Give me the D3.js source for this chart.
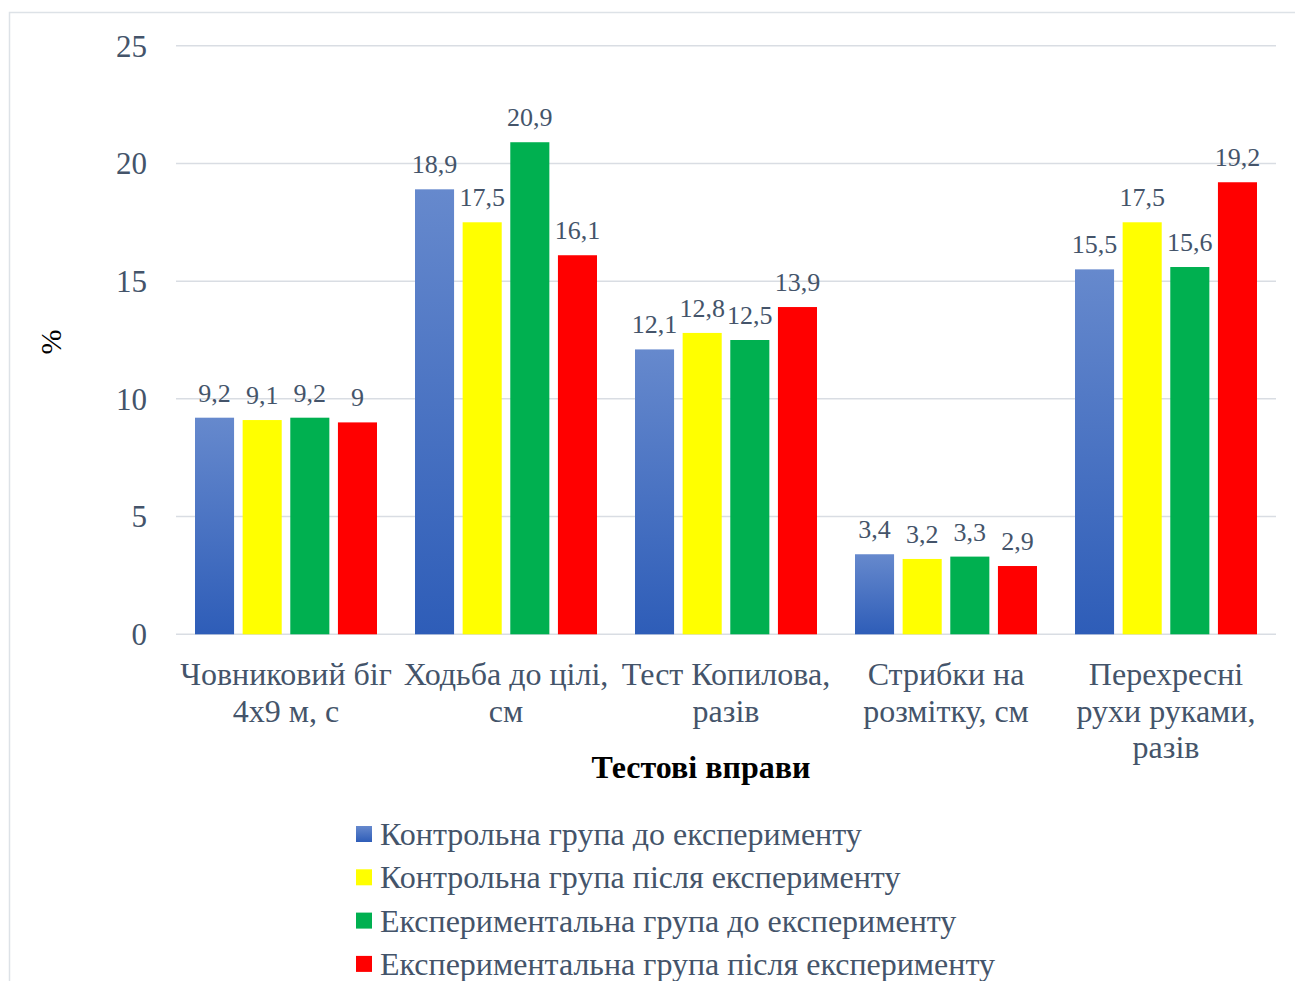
<!DOCTYPE html>
<html>
<head>
<meta charset="utf-8">
<script src="https://cdn.jsdelivr.net/npm/d3@7"></script>
<style>
  html, body { margin: 0; padding: 0; background: #fff; }
  svg { display: block; }
  text { font-family: "Liberation Serif", "Times New Roman", serif; }
</style>
</head>
<body>
<svg id="chart" width="1295" height="981"></svg>
<script>
// Test exercises (line breaks mark how each label wraps)
const categories = [
  "Човниковий біг\n4x9 м, с",
  "Ходьба до цілі,\nсм",
  "Тест Копилова,\nразів",
  "Стрибки на\nрозмітку, см",
  "Перехресні\nрухи руками,\nразів"
];

const seriesNames = [
  "Контрольна група до експерименту",
  "Контрольна група після експерименту",
  "Експериментальна група до експерименту",
  "Експериментальна група після експерименту"
];

const controlBefore = [9.2, 18.9, 12.1, 3.4, 15.5];
const controlAfter  = [9.1, 17.5, 12.8, 3.2, 17.5];
const expBefore     = [9.2, 20.9, 12.5, 3.3, 15.6];
const expAfter      = [9.0, 16.1, 13.9, 2.9, 19.2];

const yTicks = [0, 5, 10, 15, 20, 25];

const seriesValues = [controlBefore, controlAfter, expBefore, expAfter];
const seriesFills = ["url(#blueGrad)", "#ffff00", "#00b050", "#ff0000"];

const svg = d3.select("#chart");
const textColor = "#44546a";
const gridColor = "#d9dde3";

// gradient used by the first series
const defs = svg.append("defs");
const grad = defs.append("linearGradient")
  .attr("id", "blueGrad").attr("x1", 0).attr("y1", 0).attr("x2", 0).attr("y2", 1);
grad.append("stop").attr("offset", "0%").attr("stop-color", "#6689cd");
grad.append("stop").attr("offset", "100%").attr("stop-color", "#2e5db8");

// outer frame
svg.append("rect")
  .attr("x", 9.5).attr("y", 12.5).attr("width", 1300).attr("height", 1000)
  .attr("fill", "none").attr("stroke", "#dde2e7").attr("stroke-width", 1.5);

const plotLeft = 176, plotRight = 1276;
const y = d3.scaleLinear().domain([0, 25]).range([634.3, 45.7]);

const x0 = d3.scaleBand().domain(d3.range(categories.length))
  .range([plotLeft, plotRight]).paddingInner(0).paddingOuter(0);
const x1 = d3.scaleBand().domain(d3.range(seriesValues.length))
  .range([19, x0.bandwidth() - 19]).paddingInner(0.18).paddingOuter(0);

// gridlines
svg.append("g").selectAll("line").data(yTicks).join("line")
  .attr("x1", plotLeft).attr("x2", plotRight)
  .attr("y1", d => y(d)).attr("y2", d => y(d))
  .attr("stroke", gridColor).attr("stroke-width", 1.5);

// y axis labels
svg.append("g").selectAll("text").data(yTicks).join("text")
  .attr("x", 147).attr("y", d => y(d)).attr("dy", "0.35em")
  .attr("text-anchor", "end").attr("fill", textColor)
  .attr("font-size", 31).text(d => d);

// bars
const groups = svg.append("g").selectAll("g").data(categories).join("g")
  .attr("transform", (d, i) => `translate(${x0(i)},0)`);

const fmt = v => String(v).replace(".", ",");

groups.each(function(cat, ci) {
  const g = d3.select(this);
  seriesValues.forEach((vals, si) => {
    const v = vals[ci];
    g.append("rect")
      .attr("x", x1(si)).attr("width", x1.bandwidth())
      .attr("y", y(v)).attr("height", y(0) - y(v))
      .attr("fill", seriesFills[si]);
    g.append("text")
      .attr("x", x1(si) + x1.bandwidth() / 2).attr("y", y(v) - 16)
      .attr("text-anchor", "middle").attr("fill", textColor)
      .attr("font-size", 26).text(fmt(v));
  });
});

// category labels
const catLabels = svg.append("g").selectAll("text").data(categories).join("text")
  .attr("x", (d, i) => x0(i) + x0.bandwidth() / 2)
  .attr("y", 685)
  .attr("text-anchor", "middle").attr("fill", textColor).attr("font-size", 32);
catLabels.each(function(d) {
  const t = d3.select(this);
  d.split("\n").forEach((line, li) => {
    t.append("tspan").attr("x", t.attr("x")).attr("dy", li === 0 ? 0 : 36.5).text(line);
  });
});

// axis titles
svg.append("text")
  .attr("x", 701).attr("y", 778).attr("text-anchor", "middle")
  .attr("font-size", 32).attr("font-weight", "bold").attr("fill", "#000")
  .text("Тестові вправи");

svg.append("text")
  .attr("transform", "translate(61,342) rotate(-90)")
  .attr("text-anchor", "middle").attr("font-size", 30).attr("fill", "#000")
  .text("%");

// legend
const legend = svg.append("g").selectAll("g").data(seriesNames).join("g")
  .attr("transform", (d, i) => `translate(356,${845 + i * 43.3})`);
legend.append("rect")
  .attr("x", 0).attr("y", -19).attr("width", 16).attr("height", 16)
  .attr("fill", (d, i) => seriesFills[i]);
legend.append("text")
  .attr("x", 24).attr("y", 0).attr("fill", textColor).attr("font-size", 32)
  .text(d => d);
</script>
</body>
</html>
